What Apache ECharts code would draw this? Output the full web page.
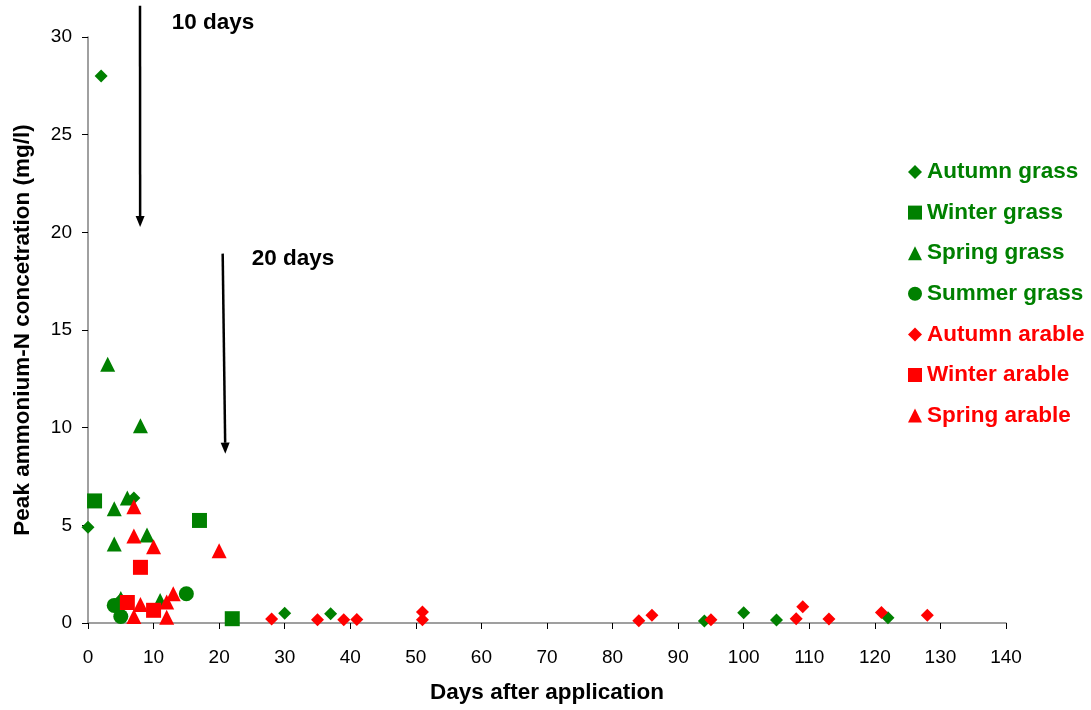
<!DOCTYPE html>
<html><head><meta charset="utf-8">
<script src="https://cdn.jsdelivr.net/npm/echarts@6/dist/echarts.min.js"></script>
<style>html,body{margin:0;padding:0;background:#fff}#c{width:1091px;height:710px}</style>
</head><body><div id="c"></div>
<script>
const autumnGrass = [[2,28],[0,4.9],[7,6.4],[5,1.2],[30,0.5],[37,0.47],[94,0.1],[100,0.53],[105,0.15],[122,0.27]];
const winterGrass = [[1,6.25],[17,5.25],[22,0.22]];
const springGrass = [[3,13.25],[8,10.1],[6,6.4],[4,5.85],[4,4.05],[9,4.5],[11,1.15],[5,1.25]];
const summerGrass = [[4,0.9],[5,0.33],[15,1.5]];
const autumnArable = [[28,0.2],[35,0.17],[39,0.17],[41,0.18],[51,0.56],[51,0.17],[84,0.12],[86,0.4],[95,0.17],[108,0.22],[109,0.83],[113,0.2],[121,0.54],[128,0.4]];
const winterArable = [[8,2.85],[6,1.05],[10,0.65]];
const springArable = [[7,5.95],[7,4.45],[10,3.9],[20,3.7],[7,0.33],[8,0.95],[12,1.07],[13,1.5],[12,0.3]];
const xTicks = [0,10,20,30,40,50,60,70,80,90,100,110,120,130,140];
const yTicks = [0,5,10,15,20,25,30];
const arrowLabels = ['10 days','20 days'];
const arrowStarts = [[7.93,31.6],[20.54,18.91]];
const arrowEnds = [[7.95,20.27],[20.94,8.67]];
const labelPos = [[12.77,30.75],[24.97,18.67]];

const GREEN = '#008000', RED = '#ff0000';
const FONT = '"Liberation Sans", Arial, sans-serif';
const BIG = 22.5;
const seriesDefs = [
  {name:'Autumn grass', data:autumnGrass, symbol:'diamond', size:13, color:GREEN},
  {name:'Winter grass', data:winterGrass, symbol:'rect', size:15, color:GREEN},
  {name:'Spring grass', data:springGrass, symbol:'triangle', size:15, color:GREEN},
  {name:'Summer grass', data:summerGrass, symbol:'circle', size:15, color:GREEN},
  {name:'Autumn arable', data:autumnArable, symbol:'diamond', size:13, color:RED},
  {name:'Winter arable', data:winterArable, symbol:'rect', size:15, color:RED},
  {name:'Spring arable', data:springArable, symbol:'triangle', size:15, color:RED}
];

const chart = echarts.init(document.getElementById('c'), null, {renderer:'canvas'});
chart.setOption({
  animation:false,
  textStyle:{fontFamily:FONT},
  grid:{left:88, right:85, top:37, bottom:87, containLabel:false},
  legend:{
    orient:'vertical', left:903, top:155.5, itemWidth:14, itemHeight:14, itemGap:17.6,
    textStyle:{fontFamily:FONT, fontSize:BIG, fontWeight:'bold', lineHeight:22.5},
    data: seriesDefs.map(s=>({name:s.name, icon:s.symbol, textStyle:{color:s.color}}))
  },
  xAxis:{
    type:'value', min:xTicks[0], max:xTicks[xTicks.length-1], interval:10,
    name:'Days after application', nameLocation:'middle', nameGap:58,
    nameTextStyle:{fontFamily:FONT, fontSize:BIG, fontWeight:'bold', color:'#000'},
    axisLine:{show:true, onZero:false, lineStyle:{color:'#808080', width:1.5}},
    axisTick:{show:true, length:6, lineStyle:{color:'#000'}},
    axisLabel:{fontFamily:FONT, fontSize:19, color:'#000', margin:25},
    splitLine:{show:false}
  },
  yAxis:{
    type:'value', min:yTicks[0], max:yTicks[yTicks.length-1], interval:5,
    name:'Peak ammonium-N concetration (mg/l)', nameLocation:'middle', nameGap:54,
    nameTextStyle:{fontFamily:FONT, fontSize:BIG, fontWeight:'bold', color:'#000'},
    axisLine:{show:true, lineStyle:{color:'#808080', width:1.5}},
    axisTick:{show:true, length:6, lineStyle:{color:'#000'}},
    axisLabel:{fontFamily:FONT, fontSize:19, color:'#000', margin:16},
    splitLine:{show:false}
  },
  series: seriesDefs.map(s=>({
    name:s.name, type:'scatter', data:s.data, symbol:s.symbol, symbolSize:s.size,
    itemStyle:{color:s.color, opacity:1}, clip:false
  }))
});

function drawArrows(){
  const g = [];
  for (let i=0;i<arrowStarts.length;i++){
    const p1 = chart.convertToPixel({gridIndex:0}, arrowStarts[i]);
    const p2 = chart.convertToPixel({gridIndex:0}, arrowEnds[i]);
    const dx = p2[0]-p1[0], dy = p2[1]-p1[1];
    const L = Math.sqrt(dx*dx+dy*dy), ux = dx/L, uy = dy/L;
    const hl = 11, hw = 4.5;
    const bx = p2[0]-ux*hl, by = p2[1]-uy*hl;
    g.push({type:'line', shape:{x1:p1[0], y1:p1[1], x2:bx, y2:by}, style:{stroke:'#000', lineWidth:2.5}, z:100});
    g.push({type:'polygon', shape:{points:[[p2[0],p2[1]],[bx-uy*hw, by+ux*hw],[bx+uy*hw, by-ux*hw]]}, style:{fill:'#000'}, z:100});
    const lp = chart.convertToPixel({gridIndex:0}, labelPos[i]);
    g.push({type:'text', x:lp[0], y:lp[1], style:{text:arrowLabels[i], fill:'#000', font:'bold '+BIG+'px '+FONT, textAlign:'left', textVerticalAlign:'middle'}, z:100});
  }
  chart.setOption({graphic:g});
}
drawArrows();
</script></body></html>
